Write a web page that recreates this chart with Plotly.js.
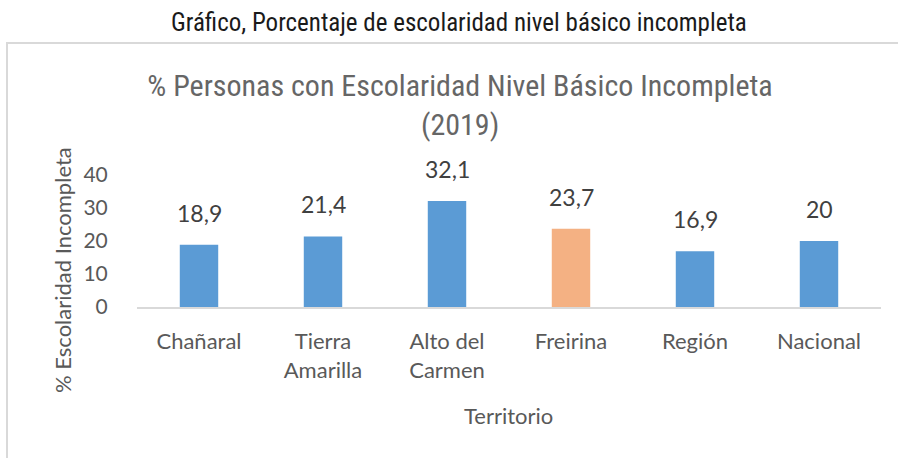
<!DOCTYPE html>
<html><head><meta charset="utf-8">
<script src="https://cdn.plot.ly/plotly-3.0.1.min.js"></script>
<style>html,body{margin:0;padding:0;background:#fff;}#chart{width:898px;height:458px;}</style>
</head><body><div id="chart"></div>
<script>
const categories = ["Chañaral", "Tierra<br>Amarilla", "Alto del<br>Carmen", "Freirina", "Región", "Nacional"];
const values = [18.9, 21.4, 32.1, 23.7, 16.9, 20];
const valueLabels = ["18,9", "21,4", "32,1", "23,7", "16,9", "20"];
const barColors = ["#5b9bd5", "#5b9bd5", "#5b9bd5", "#f4b183", "#5b9bd5", "#5b9bd5"];
const yTicks = [0, 10, 20, 30, 40];

const W = 898, H = 458;
const m = {l: 137, r: 17, t: 175, b: 151};
const pw = W - m.l - m.r, ph = H - m.t - m.b;
const px = x => (x - m.l) / pw;
const py = y => (H - m.b - y) / ph;
const font = "Lato, 'Open Sans', sans-serif";
const narrow = "'Liberation Sans Narrow', 'Roboto Condensed', Roboto, sans-serif";
const grey = "#595959";

const trace = {
  type: "bar", x: categories, y: values,
  marker: {color: barColors},
  width: 0.31,
  hoverinfo: "none"
};
const labelAnns = categories.map((c, i) => ({
  x: c, y: values[i], xref: "x", yref: "y", text: valueLabels[i],
  showarrow: false, yanchor: "bottom", xanchor: "center", yshift: 16,
  font: {family: font, size: 23, color: "#404040"}
}));
const layout = {
  width: W, height: H, margin: m, showlegend: false,
  paper_bgcolor: "#fff", plot_bgcolor: "#fff",
  font: {family: font, color: grey},
  title: {text: "% Personas con Escolaridad Nivel Básico Incompleta",
    xref: "container", yref: "container", x: 460/W, xanchor: "center",
    y: 1 - 85/H, yanchor: "middle",
    font: {family: narrow, size: 30, color: "#666"}},
  xaxis: {showgrid: false, showline: true, linecolor: "#d9d9d9", linewidth: 2,
    ticks: "outside", ticklen: 14, tickcolor: "rgba(0,0,0,0)",
    tickfont: {family: font, size: 22, color: grey}},
  yaxis: {range: [0, 40], tickvals: yTicks, showgrid: false, zeroline: false, showline: false,
    ticks: "outside", ticklen: 24, tickcolor: "rgba(0,0,0,0)",
    tickfont: {family: font, size: 21, color: grey}},
  annotations: labelAnns.concat([
    {text: "Gráfico, Porcentaje de escolaridad nivel básico incompleta",
      xref: "paper", yref: "paper", x: px(459), y: py(22), xanchor: "center", yanchor: "middle",
      showarrow: false, font: {family: narrow, size: 25, color: "#1a1a1a"}},
    {text: "(2019)", xref: "paper", yref: "paper", x: px(460), y: py(125), xanchor: "center", yanchor: "middle",
      showarrow: false, font: {family: narrow, size: 30, color: "#666"}},
    {text: "Territorio", xref: "paper", yref: "paper", x: px(508), y: py(415), xanchor: "center", yanchor: "middle",
      showarrow: false, font: {family: font, size: 22, color: grey}},
    {text: "% Escolaridad Incompleta", xref: "paper", yref: "paper", x: px(62), y: py(270), xanchor: "center", yanchor: "middle",
      textangle: -90, showarrow: false, font: {family: font, size: 22, color: grey}}
  ]),
  shapes: [{type: "rect", xref: "paper", yref: "paper",
    x0: px(7), x1: px(905), y0: py(43), y1: py(470),
    line: {color: "#d9d9d9", width: 2}, fillcolor: "rgba(0,0,0,0)", layer: "below"}]
};
Plotly.newPlot("chart", [trace], layout, {displayModeBar: false, staticPlot: true});
</script></body></html>
